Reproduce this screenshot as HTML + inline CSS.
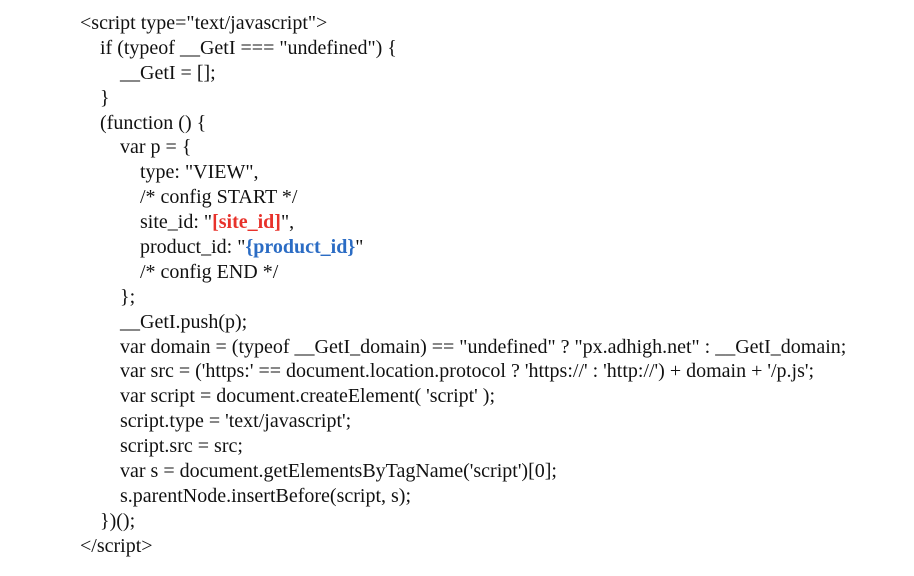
<!DOCTYPE html>
<html><head><meta charset="utf-8"><style>
html,body{margin:0;padding:0;background:#fff;width:914px;height:576px;overflow:hidden}
.c{position:absolute;top:11px;left:80px;font-family:"Liberation Serif",serif;font-size:20px;line-height:24.9px;color:#111}
.c div{height:24.9px;white-space:pre}
.i1{padding-left:20px}.i2{padding-left:40px}.i3{padding-left:60px}
.r{color:#e8322b;font-weight:bold}
.b{color:#2b6cc4;font-weight:bold}
</style></head><body>
<div class="c"><div>&lt;script type="text/javascript"&gt;</div><div class="i1">if (typeof __GetI === "undefined") {</div><div class="i2">__GetI = [];</div><div class="i1">}</div><div class="i1">(function () {</div><div class="i2">var p = {</div><div class="i3">type: "VIEW",</div><div class="i3">/* config START */</div><div class="i3">site_id: "<span class="r">[site_id]</span>",</div><div class="i3">product_id: "<span class="b">{product_id}</span>"</div><div class="i3">/* config END */</div><div class="i2">};</div><div class="i2">__GetI.push(p);</div><div class="i2">var domain = (typeof __GetI_domain) == "undefined" ? "px.adhigh.net" : __GetI_domain;</div><div class="i2">var src = ('https:' == document.location.protocol ? 'https://' : 'http://') + domain + '/p.js';</div><div class="i2">var script = document.createElement( 'script' );</div><div class="i2">script.type = 'text/javascript';</div><div class="i2">script.src = src;</div><div class="i2">var s = document.getElementsByTagName('script')[0];</div><div class="i2">s.parentNode.insertBefore(script, s);</div><div class="i1">})();</div><div>&lt;/script&gt;</div></div>
</body></html>
